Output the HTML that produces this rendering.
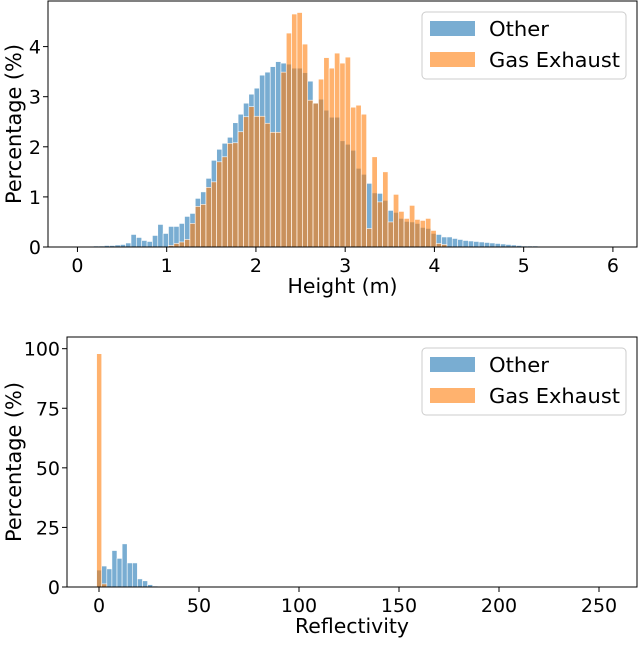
<!DOCTYPE html>
<html><head><meta charset="utf-8"><style>
body{margin:0;background:#fff;font-family:"Liberation Sans","DejaVu Sans",sans-serif}
svg text{font-family:"DejaVu Sans","Liberation Sans",sans-serif;fill:#000}
</style></head><body>
<svg id="c" width="640" height="640" viewBox="0 0 640 640"></svg>
<script>
// Height histogram: 100 bins over 0..6 (width 0.06)
const heightOther=[0,0,0.01,0.02,0.02,0.03,0.03,0.04,0.05,0.08,0.25,0.19,0.13,0.11,0.23,0.45,0.27,0.41,0.41,0.47,0.61,0.67,0.97,1.1,1.37,1.73,1.95,2.07,2.19,2.48,2.65,2.87,3.05,3.17,3.43,3.49,3.6,3.7,3.67,3.65,3.57,3.57,3.48,3.31,2.88,2.95,2.73,2.59,2.59,2.12,2.05,1.93,1.57,1.45,1.27,1.08,1.07,0.93,0.73,0.69,0.57,0.51,0.5,0.47,0.39,0.37,0.27,0.25,0.2,0.2,0.17,0.15,0.13,0.12,0.11,0.1,0.09,0.08,0.07,0.06,0.05,0.04,0.03,0.02,0.02,0.02,0.01,0.01,0.01,0.01,0.01,0.01,0.01,0.01,0.01,0.01,0.01,0.01,0.01,0.01];
const heightGas=[0,0,0,0,0,0,0,0,0,0,0,0,0,0,0,0,0,0.03,0.07,0.1,0.15,0.47,0.81,0.85,1.19,1.3,1.7,1.8,2.07,2.08,2.3,2.6,2.8,2.61,2.61,2.47,2.29,2.29,3.49,4.27,4.65,4.68,4.05,2.93,2.87,3.35,3.78,3.57,3.87,3.67,3.79,2.79,2.83,2.65,0.37,1.8,0.9,1.5,0.5,1.05,0.71,0.57,0.83,0.55,0.53,0.57,0.33,0.07,0.05,0,0,0,0,0,0,0,0,0,0,0,0,0,0,0,0,0,0,0,0,0,0,0,0,0,0,0,0,0,0,0];
const heightTicks=[0,1,2,3,4,5,6];
const heightYTicks=[0,1,2,3,4];
// Reflectivity histogram: bins of width 2.55 starting at -1.2
const reflOther=[7.1,8.8,7.6,15.3,12,18.1,10.1,10.1,3.4,2.6,1,0.4,0.3];
const reflGas=[97.9,1.3];
const reflTicks=[0,50,100,150,200,250];
const reflYTicks=[0,25,50,75,100];
const labels=["Other","Gas Exhaust"];
const labelLens=[60,131];

const S=document.getElementById('c');
const NS="http://www.w3.org/2000/svg";
function mk(t,a,p){const e=document.createElementNS(NS,t);for(const k in a)e.setAttribute(k,a[k]);(p||S).appendChild(e);return e;}
const BLUE="rgba(31,119,180,0.6)",ORANGE="rgba(255,127,14,0.6)";

function panel(o){
  const g=mk('g',{});
  
  
  const xs=v=>o.L+(v-o.x0)/(o.x1-o.x0)*(o.R-o.L);
  const ys=v=>o.B-(v-o.y0)/(o.y1-o.y0)*(o.B-o.T);
  [[o.a,BLUE,'other'],[o.b,ORANGE,'gas']].forEach(([arr,col,nm])=>{
    arr.forEach((v,i)=>{
      if(v<=0)return;
      const xa=xs(o.start+i*o.w),xb=xs(o.start+(i+1)*o.w);
      const r=mk('rect',{x:xa,y:ys(v),width:xb-xa,height:ys(0)-ys(v),fill:col,stroke:'#fff','stroke-width':0.6},g);
      
      
    });
  });
  mk('rect',{x:o.L,y:o.T,width:o.R-o.L,height:o.B-o.T,fill:'none',stroke:'#000','stroke-width':1},g);
  o.xt.forEach(t=>{const x=xs(t);mk('line',{x1:x,x2:x,y1:o.B,y2:o.B+5,stroke:'#000'},g);
    const tx=mk('text',{x:x,y:o.B+25,'text-anchor':'middle','font-size':19},g);tx.textContent=t;
    });
  o.yt.forEach(t=>{const y=ys(t);mk('line',{x1:o.L-5,x2:o.L,y1:y,y2:y,stroke:'#000'},g);
    const tx=mk('text',{x:o.L-7,y:y+7,'text-anchor':'end','font-size':19},g);tx.textContent=t;
    });
  const xt=mk('text',{x:(o.L+o.R)/2,y:o.B+46,'text-anchor':'middle','font-size':20,textLength:o.xlLen,lengthAdjust:'spacingAndGlyphs'},g);xt.textContent=o.xl;
  
  const cy=(o.T+o.B)/2;
  const yt=mk('text',{x:cy,y:0,'text-anchor':'middle','font-size':21,textLength:160,lengthAdjust:'spacingAndGlyphs',transform:`translate(21 ${2*cy}) rotate(-90)`},g);
  yt.textContent='Percentage (%)';
  
  const lg=mk('g',{},g);
  
  mk('rect',{x:422,y:o.T+11,width:204,height:67,rx:4,fill:'#fff','fill-opacity':0.8,stroke:'#ccc'},lg);
  [[BLUE,0],[ORANGE,1]].forEach(([c,k])=>{
    const yy=o.T+20+k*31;
    mk('rect',{x:430,y:yy,width:45,height:15,fill:c},lg);
    const t=mk('text',{x:489,y:yy+15,'font-size':20,textLength:labelLens[k],lengthAdjust:'spacingAndGlyphs'},lg);t.textContent=labels[k];
    
  });
}
panel({name:'height-histogram',L:48,R:637,T:1,B:247,x0:-0.33,x1:6.27,y0:0,y1:4.91,start:0,w:0.06,a:heightOther,b:heightGas,xt:heightTicks,yt:heightYTicks,xl:'Height (m)',xlLen:110});
panel({name:'reflectivity-histogram',L:67,R:637,T:337,B:587,x0:-16,x1:269,y0:0,y1:104.9,start:-1.2,w:2.55,a:reflOther,b:reflGas,xt:reflTicks,yt:reflYTicks,xl:'Reflectivity',xlLen:114});
</script>
</body></html>
